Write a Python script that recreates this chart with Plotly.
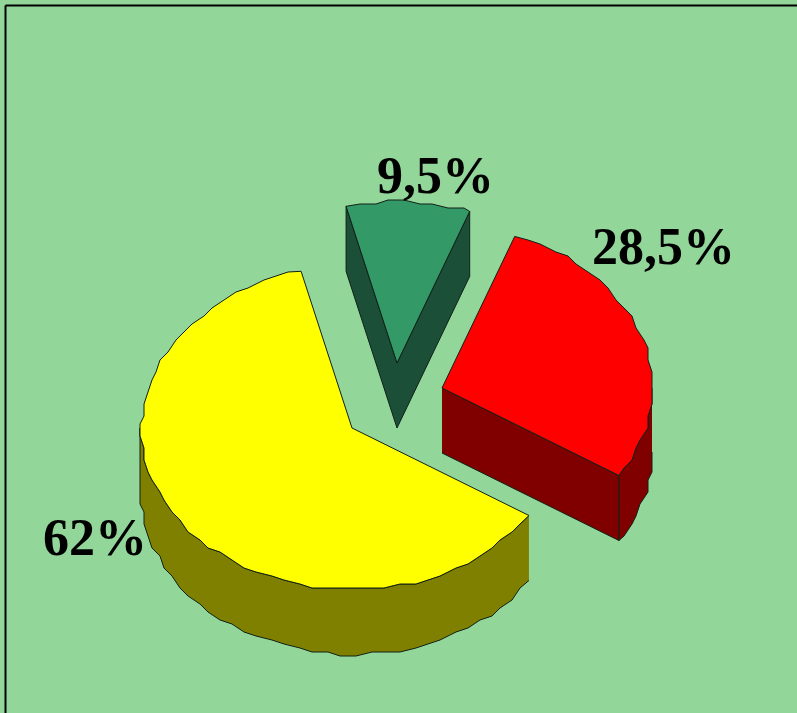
import numpy as np
import plotly.graph_objects as go

# Data
categories = ["green", "red", "yellow"]
shares = [9.5, 28.5, 62.0]
labels = ["9,5%", "28,5%", "62%"]
top_colors = ["#339966", "#FF0000", "#FFFF00"]
side_colors = ["#1C4F38", "#800000", "#808000"]

# Layout of the pseudo-3D pie (pixel-like axis units)
start_deg = -14.0
rx, ry, depth = 210.5, 161.5, 65.0
apexes = [(397.0, 363.0), (442.0, 388.0), (352.0, 428.0)]
label_pos = [(435, 175), (663, 246), (95, 537)]
W, H = 797, 713
GRID = 4.0


def angles(a0, a1):
    ts = np.arange(a0, a1, 4.0)
    ts = np.unique(np.r_[ts, a1, [t for t in (90.0, 270.0) if a0 < t < a1]])
    return ts


def rim(cx, cy, a0, a1):
    ts = angles(a0, a1)
    xs = cx + rx * np.sin(np.radians(ts))
    ys = cy - ry * np.cos(np.radians(ts))
    qx = np.round(xs / GRID) * GRID
    qy = np.round(ys / GRID) * GRID
    qx[0], qy[0], qx[-1], qy[-1] = xs[0], ys[0], xs[-1], ys[-1]
    return ts, qx, qy


def poly(fig, xs, ys, color):
    fig.add_trace(go.Scatter(x=list(xs), y=list(ys), mode="lines", fill="toself",
                             fillcolor=color, line=dict(color="#102018", width=1),
                             hoverinfo="skip", showlegend=False))


fig = go.Figure()
angle = start_deg
spans = []
for s in shares:
    spans.append((angle, angle + s * 3.6))
    angle += s * 3.6

for i in range(3):
    cx, cy = apexes[i]
    a0, a1 = spans[i]
    ts, qx, qy = rim(cx, cy, a0, a1)
    if i == 0:
        poly(fig, [cx, qx[0], qx[0], cx], [cy, qy[0], qy[0] + depth, cy + depth], side_colors[i])
    if i in (0, 1):
        poly(fig, [cx, qx[-1], qx[-1], cx], [cy, qy[-1], qy[-1] + depth, cy + depth], side_colors[i])
    mask = (ts >= 90.0) & (ts <= 270.0)
    if mask.any():
        _, lx, ly = rim(cx, cy + depth, a0, a1)
        wx, wy = qx[mask], qy[mask]
        bx, by = lx[mask], ly[mask]
        poly(fig, np.r_[wx, bx[::-1]], np.r_[wy, by[::-1]], side_colors[i])
    poly(fig, np.r_[cx, qx, cx], np.r_[cy, qy, cy], top_colors[i])

for text, (x, y) in zip(labels, label_pos):
    fig.add_annotation(x=x, y=y, text=f"<b>{text}</b>", showarrow=False,
                       font=dict(family="Liberation Serif", size=52, color="#000000"),
                       xanchor="center", yanchor="middle")

fig.update_xaxes(range=[0, W], visible=False, fixedrange=True)
fig.update_yaxes(range=[H, 0], visible=False, fixedrange=True)
fig.add_shape(type="line", xref="paper", yref="paper", x0=5.5 / W, x1=5.5 / W, y0=0, y1=1 - 5.5 / H,
              line=dict(color="#000000", width=2))
fig.add_shape(type="line", xref="paper", yref="paper", x0=5.5 / W, x1=1, y0=1 - 5.5 / H, y1=1 - 5.5 / H,
              line=dict(color="#000000", width=2))
fig.update_layout(width=W, height=H, margin=dict(l=0, r=0, t=0, b=0),
                  paper_bgcolor="#93D699", plot_bgcolor="#93D699", showlegend=False)
fig.write_html("out.html", config=dict(displayModeBar=False),
               post_script="document.body.style.margin='0';document.body.style.background='#93D699';")
